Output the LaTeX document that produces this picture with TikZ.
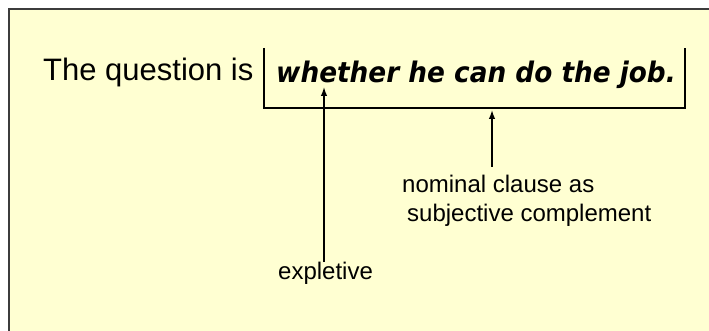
\documentclass[tikz,border=0pt]{standalone}
\usepackage{fontspec}
\setmainfont{Liberation Sans}
\newfontfamily\clausefont[FakeStretch=0.93]{DejaVu Sans}
\usetikzlibrary{arrows.meta}
\definecolor{paper}{RGB}{255,255,210}
\definecolor{framegray}{RGB}{60,60,60}
\begin{document}
\begin{tikzpicture}[x=1pt,y=-1pt,
  txt/.style={anchor=base west, inner sep=0pt, text=black},
  label/.style={txt, font=\fontsize{24}{29}\selectfont, align=left},
  pointer/.style={draw=black, line width=1.4pt, -{Latex[length=9pt,width=6.5pt]}},
  bracket/.style={draw=black, line width=1.4pt}]
\useasboundingbox (0,0) rectangle (709,331);
\fill[white] (0,0) rectangle (709,331);
\fill[paper] (9,9) rectangle (709,331);
\draw[framegray, line width=2pt] (9,331) -- (9,9) -- (709,9);
% sentence
\node[txt, font=\fontsize{31}{31}\selectfont] (lead) at (43,81) {The question is};
\node[txt, font=\clausefont\bfseries\itshape\fontsize{28.3}{28.3}\selectfont] (clause) at (276,83) {whether he can do the job.};
% bracket round the clause
\coordinate (bl) at (264,48);
\coordinate (bb) at (264,108);
\coordinate (br) at (685,108);
\coordinate (brt) at (685,48);
\draw[bracket] (bl) -- (bb) -- (br) -- (brt);
% labels (base anchor of a two-line node is the last line's baseline)
\node[label] (nom) at (402,222) {nominal clause as\\\hspace*{5pt}subjective complement};
\node[label] (expl) at (278,279) {expletive};
% pointers
\coordinate (explstart) at (324,262);
\coordinate (expltip) at (324,87);
\coordinate (nomstart) at (492,167);
\coordinate (nomtip) at (492,110);
\draw[pointer] (explstart) -- (expltip);
\draw[pointer] (nomstart) -- (nomtip);
\end{tikzpicture}
\end{document}
